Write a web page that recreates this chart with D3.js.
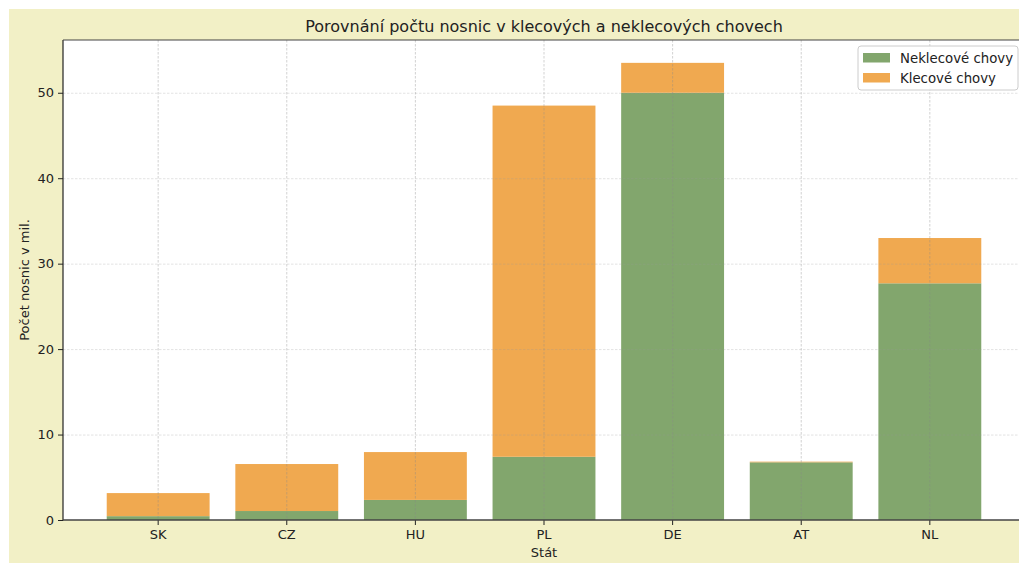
<!DOCTYPE html>
<html><head><meta charset="utf-8">
<script src="https://cdn.jsdelivr.net/npm/d3@7"></script>
<style>body{margin:0;background:#fff;} text{font-family:"DejaVu Sans",sans-serif;fill:#222;}</style>
</head><body>
<svg id="c" width="1019" height="563"></svg>
<script>
const categories = ["SK","CZ","HU","PL","DE","AT","NL"];
const nonCage = [0.45, 1.05, 2.35, 7.4, 50.0, 6.75, 27.7];
const cage = [2.7, 5.5, 5.6, 41.1, 3.5, 0.08, 5.3];
const yTicks = [0,10,20,30,40,50];
const seriesNames = ["Neklecové chovy","Klecové chovy"];
const colors = ["#82a66d","#f0a950"];

const svg = d3.select("#c");
svg.append("rect").attr("x",9).attr("y",9).attr("width",1010).attr("height",554).attr("fill","#f2f0c6");

const L=63, R=1025, T=40, B=520;
const totals = nonCage.map((v,i)=>v+cage[i]);
const x = d3.scaleBand().domain(categories).range([L,R]).paddingInner(0.2).paddingOuter(0.34);
const y = d3.scaleLinear().domain([0, d3.max(totals)*1.05]).range([B,T]);

svg.append("rect").attr("x",L).attr("y",T).attr("width",R-L).attr("height",B-T).attr("fill","#fff");

const g = svg.append("g");
g.selectAll("rect.nc").data(categories).join("rect")
  .attr("x",d=>x(d)).attr("width",x.bandwidth())
  .attr("y",(d,i)=>y(nonCage[i])).attr("height",(d,i)=>y(0)-y(nonCage[i]))
  .attr("fill",colors[0]);
g.selectAll("rect.c").data(categories).join("rect")
  .attr("x",d=>x(d)).attr("width",x.bandwidth())
  .attr("y",(d,i)=>y(totals[i])).attr("height",(d,i)=>y(nonCage[i])-y(totals[i]))
  .attr("fill",colors[1]);

// grid
const grid = svg.append("g");
grid.selectAll("line.h").data(yTicks.filter(t=>t>0)).join("line")
  .attr("x1",L).attr("x2",R).attr("y1",d=>y(d)+0.5).attr("y2",d=>y(d)+0.5)
  .attr("stroke","#999").attr("stroke-opacity",0.4).attr("stroke-width",0.7).attr("stroke-dasharray","2.5,1.5");
grid.selectAll("line.v").data(categories).join("line")
  .attr("y1",T).attr("y2",B).attr("x1",d=>x(d)+x.bandwidth()/2).attr("x2",d=>x(d)+x.bandwidth()/2)
  .attr("stroke","#888").attr("stroke-opacity",0.55).attr("stroke-width",0.7).attr("stroke-dasharray","2.5,1.5");

// axes
const ax = d3.axisLeft(y).tickValues(yTicks).tickSize(5).tickPadding(4);
const gy = svg.append("g").attr("transform",`translate(${L},0)`).call(ax);
gy.select(".domain").remove();
gy.selectAll("text").style("font-size","13px").attr("fill","#222");
gy.selectAll("line").attr("stroke","#222");
const axb = d3.axisBottom(x).tickSize(5).tickPadding(5);
const gx = svg.append("g").attr("transform",`translate(0,${B})`).call(axb);
gx.select(".domain").remove();
gx.selectAll("text").style("font-size","13px").attr("fill","#222");
gx.selectAll("line").attr("stroke","#222");

// spines
svg.append("line").attr("x1",L).attr("x2",L).attr("y1",T).attr("y2",B+0.5).attr("stroke","#222").attr("stroke-width",1.2);
svg.append("line").attr("x1",L).attr("x2",R).attr("y1",B).attr("y2",B).attr("stroke","#444").attr("stroke-width",1.5);
svg.append("line").attr("x1",L).attr("x2",R).attr("y1",T).attr("y2",T).attr("stroke","#444").attr("stroke-width",1.2);

// labels
svg.append("text").attr("x",(L+R)/2).attr("y",32).attr("text-anchor","middle").style("font-size","16px")
  .text("Porovnání počtu nosnic v klecových a neklecových chovech");
svg.append("text").attr("x",(L+R)/2).attr("y",557).attr("text-anchor","middle").style("font-size","13px").text("Stát");
svg.append("text").attr("transform",`translate(29,${(T+B)/2}) rotate(-90)`).attr("text-anchor","middle").style("font-size","13px")
  .text("Počet nosnic v mil.");

// legend
const lg = svg.append("g");
lg.append("rect").attr("x",858).attr("y",46).attr("width",160).attr("height",44).attr("rx",3)
  .attr("fill","#fff").attr("fill-opacity",0.85).attr("stroke","#ccc");
seriesNames.forEach((n,i)=>{
  lg.append("rect").attr("x",863).attr("y",53+i*20).attr("width",27).attr("height",9.5).attr("fill",colors[i]);
  lg.append("text").attr("x",900).attr("y",58+i*20).attr("dy","0.35em").style("font-size","13.3px").text(n);
});
</script>
</body></html>
